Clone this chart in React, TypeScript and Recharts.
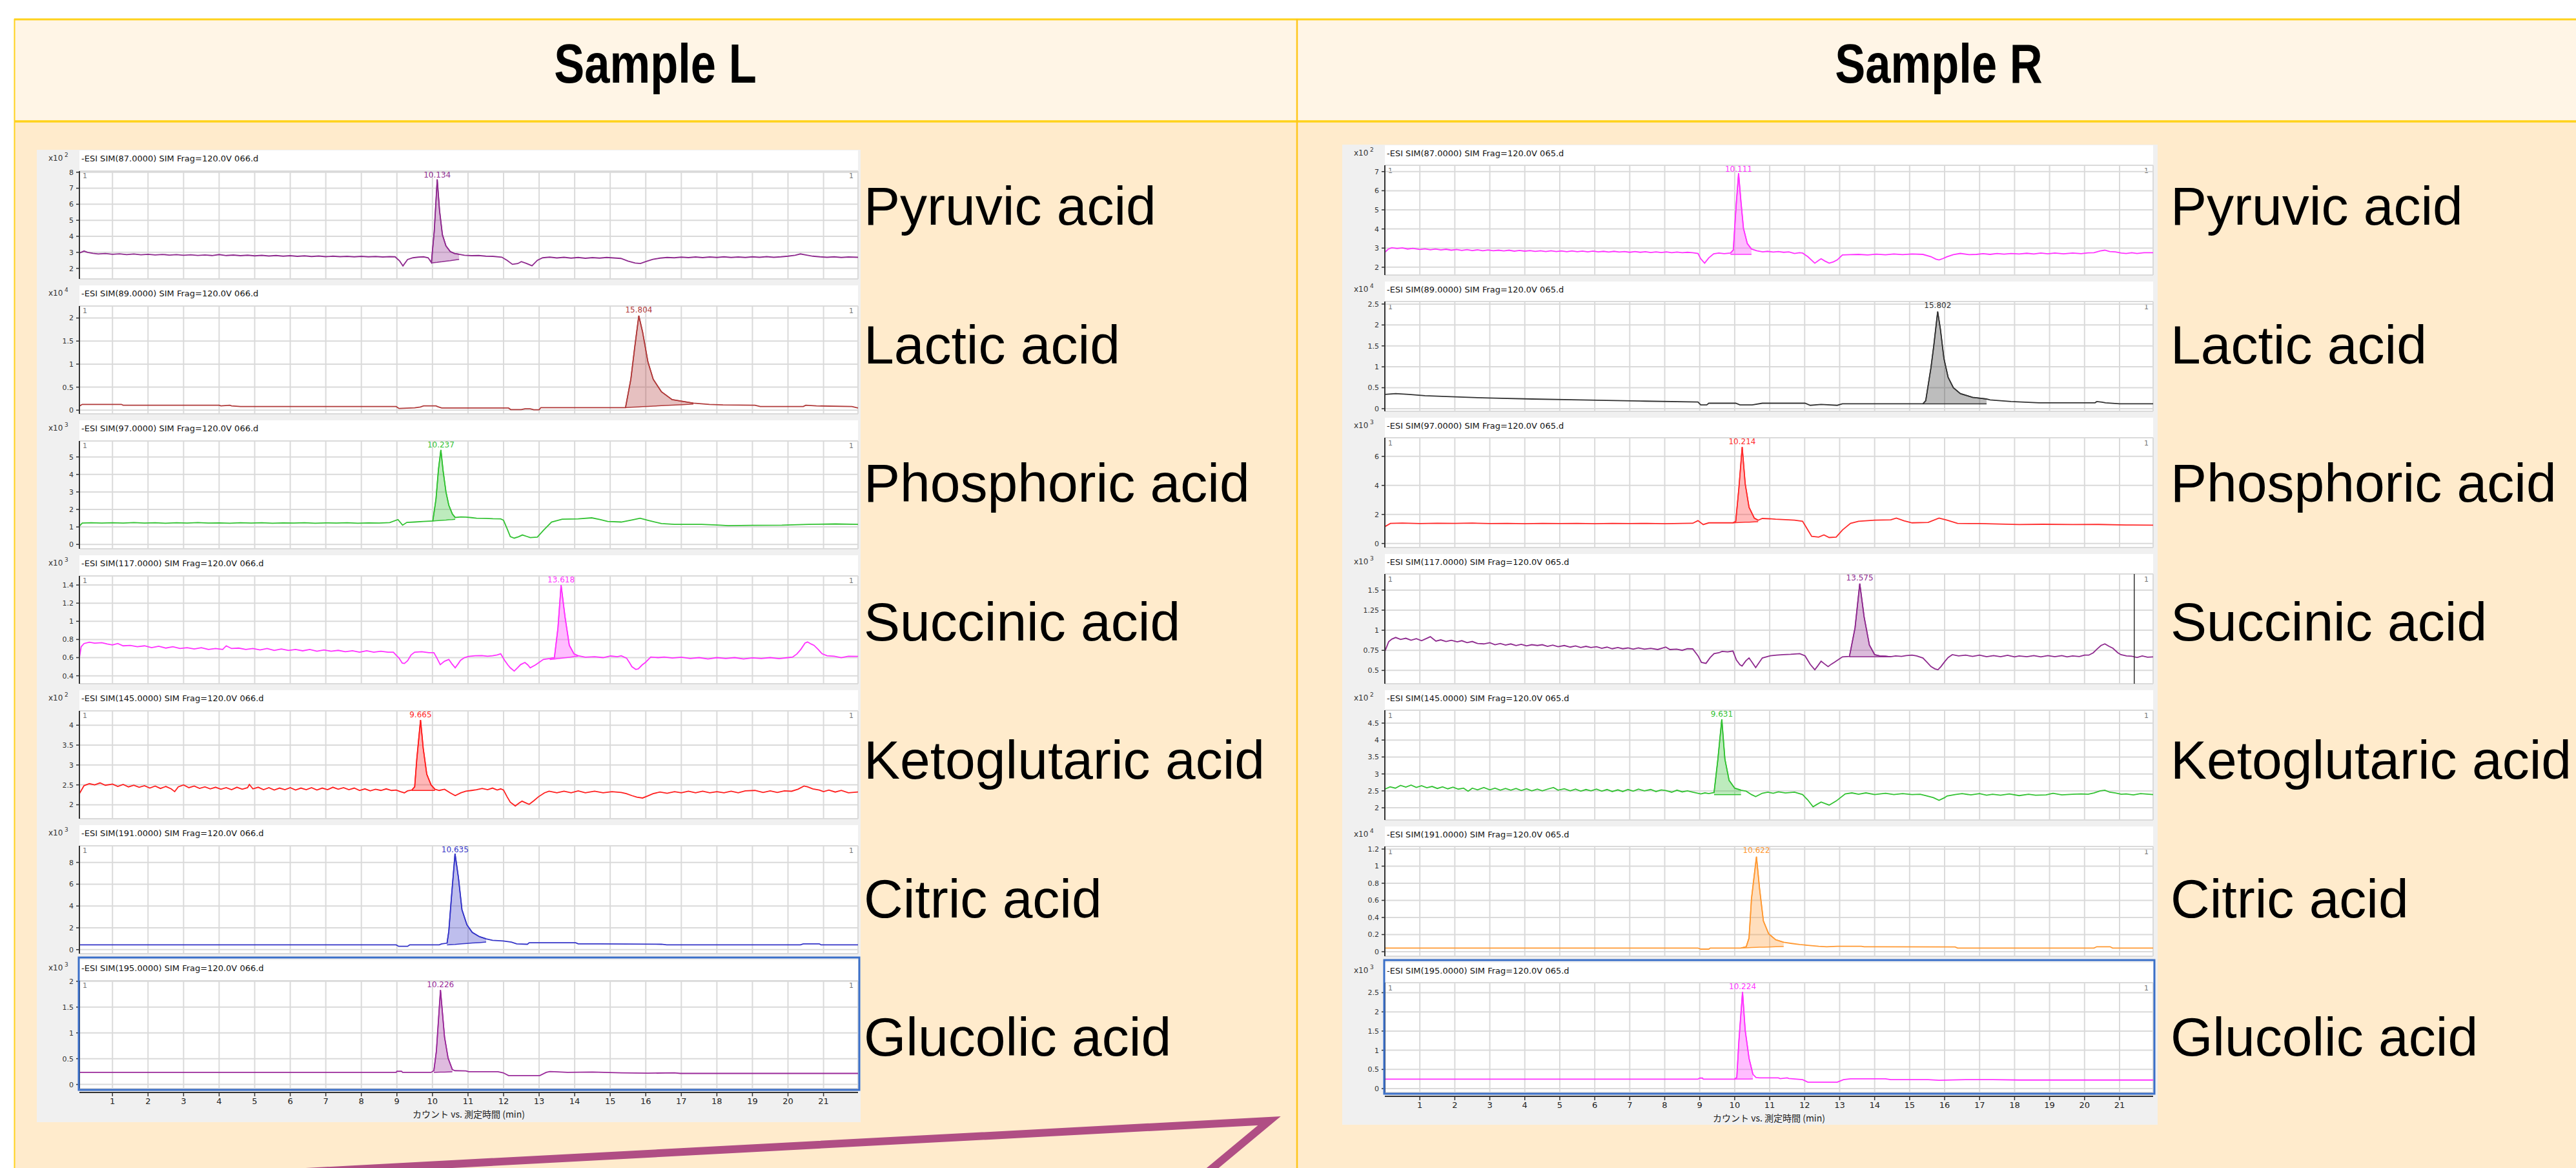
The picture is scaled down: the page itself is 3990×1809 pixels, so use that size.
import { ComposedChart, Line, Area, XAxis, YAxis, CartesianGrid, ReferenceLine } from "recharts";

type Pair = [number, number];

const MINUTES = [1, 2, 3, 4, 5, 6, 7, 8, 9, 10, 11, 12, 13, 14, 15, 16, 17, 18, 19, 20, 21];
const COMPOUNDS = ["Pyruvic acid", "Lactic acid", "Phosphoric acid", "Succinic acid", "Ketoglutaric acid", "Citric acid", "Glucolic acid"];
const IONS = ["87.0000", "89.0000", "97.0000", "117.0000", "145.0000", "191.0000", "195.0000"];

// ---- Sample L traces: [minute, counts] ----
const PYRUVIC_L: Pair[] = [[0.07,2.95],[0.2,3.08],[0.3,3.0],[0.45,2.94],[0.6,2.9],[0.8,2.93],[1.0,2.88],[1.2,2.91],[1.4,2.86],[1.6,2.9],[1.8,2.85],[2.0,2.88],[2.2,2.84],[2.4,2.87],[2.6,2.83],[2.8,2.86],[3.0,2.82],[3.2,2.85],[3.4,2.81],[3.6,2.84],[3.8,2.8],[4.0,2.86],[4.2,2.8],[4.4,2.83],[4.6,2.79],[4.8,2.82],[5.0,2.78],[5.2,2.81],[5.4,2.77],[5.6,2.8],[5.8,2.76],[6.0,2.79],[6.2,2.75],[6.4,2.78],[6.6,2.74],[6.8,2.77],[7.0,2.73],[7.2,2.76],[7.4,2.73],[7.6,2.75],[7.8,2.72],[8.0,2.75],[8.2,2.72],[8.4,2.74],[8.6,2.71],[8.8,2.73],[8.95,2.72],[9.08,2.45],[9.17,2.15],[9.3,2.55],[9.45,2.66],[9.6,2.7],[9.75,2.72],[9.88,2.66],[9.97,2.36],[10.05,4.3],[10.134,7.55],[10.2,5.6],[10.28,4.1],[10.38,3.4],[10.5,3.05],[10.62,2.93],[10.75,2.88],[10.9,2.82],[11.1,2.79],[11.3,2.8],[11.5,2.76],[11.7,2.75],[11.95,2.7],[12.1,2.5],[12.25,2.25],[12.4,2.3],[12.5,2.42],[12.65,2.3],[12.8,2.16],[12.95,2.5],[13.1,2.66],[13.3,2.7],[13.5,2.65],[13.7,2.69],[13.9,2.64],[14.1,2.68],[14.3,2.63],[14.5,2.67],[14.7,2.64],[14.9,2.68],[15.1,2.65],[15.3,2.62],[15.5,2.45],[15.7,2.33],[15.85,2.3],[16.0,2.42],[16.2,2.56],[16.4,2.64],[16.6,2.68],[16.8,2.66],[17.0,2.7],[17.2,2.67],[17.4,2.71],[17.6,2.67],[17.8,2.71],[18.0,2.68],[18.2,2.72],[18.4,2.68],[18.6,2.71],[18.8,2.68],[19.0,2.72],[19.2,2.69],[19.4,2.73],[19.6,2.69],[19.8,2.72],[20.0,2.76],[20.2,2.82],[20.35,2.9],[20.5,2.84],[20.7,2.76],[20.9,2.72],[21.1,2.69],[21.3,2.72],[21.5,2.68],[21.7,2.71],[21.97,2.69]];
const PYRUVIC_L_BASE: Pair[] = [[9.97,2.34],[10.05,2.36],[10.134,2.38],[10.2,2.4],[10.28,2.42],[10.38,2.45],[10.5,2.48],[10.62,2.52],[10.75,2.56]];

const LACTIC_L: Pair[] = [[0.07,0.09],[0.15,0.126],[1.25,0.126],[1.3,0.107],[4.0,0.107],[4.05,0.093],[4.3,0.107],[4.35,0.093],[4.6,0.079],[8.98,0.079],[9.06,0.037],[9.5,0.05],[9.66,0.07],[9.75,0.093],[10.1,0.093],[10.15,0.075],[10.26,0.047],[12.14,0.047],[12.2,0.014],[12.5,0.014],[12.6,0.03],[12.75,0.03],[12.85,0.009],[13.0,0.009],[13.05,0.056],[15.43,0.056],[15.58,0.67],[15.69,1.37],[15.804,2.05],[15.91,1.7],[16.06,1.05],[16.21,0.67],[16.44,0.4],[16.74,0.23],[17.04,0.19],[17.34,0.153],[17.79,0.126],[18.17,0.115],[19.07,0.107],[19.22,0.079],[20.43,0.079],[20.5,0.107],[20.8,0.093],[21.8,0.079],[21.97,0.047]];
const LACTIC_L_BASE: Pair[] = [[15.43,0.056],[15.58,0.062],[15.69,0.067],[15.804,0.071],[15.91,0.076],[16.06,0.082],[16.21,0.088],[16.44,0.097],[16.74,0.109],[17.04,0.121],[17.34,0.133]];

const PHOSPHORIC_L: Pair[] = [[0.07,1.05],[0.15,1.22],[0.4,1.24],[0.7,1.22],[1.0,1.24],[1.3,1.22],[1.6,1.25],[1.9,1.22],[2.2,1.24],[2.5,1.21],[2.8,1.24],[3.1,1.22],[3.4,1.25],[3.7,1.22],[4.0,1.23],[4.3,1.21],[4.6,1.24],[4.9,1.22],[5.2,1.24],[5.5,1.21],[5.8,1.23],[6.1,1.22],[6.4,1.24],[6.7,1.21],[7.0,1.23],[7.3,1.22],[7.6,1.24],[7.9,1.21],[8.2,1.23],[8.5,1.22],[8.8,1.25],[9.03,1.42],[9.16,1.1],[9.28,1.26],[9.5,1.28],[9.75,1.31],[10.01,1.34],[10.1,2.6],[10.17,4.3],[10.237,5.4],[10.3,4.2],[10.38,3.0],[10.46,2.24],[10.56,1.74],[10.64,1.54],[10.8,1.57],[10.94,1.56],[11.1,1.53],[11.24,1.5],[11.5,1.49],[11.7,1.47],[11.92,1.46],[12.0,1.38],[12.1,0.9],[12.19,0.45],[12.3,0.36],[12.42,0.44],[12.53,0.54],[12.65,0.46],[12.75,0.39],[12.95,0.42],[13.13,0.82],[13.35,1.28],[13.65,1.44],[14.1,1.46],[14.48,1.52],[14.71,1.42],[14.93,1.31],[15.31,1.28],[15.61,1.4],[15.84,1.5],[16.06,1.38],[16.44,1.19],[16.81,1.15],[17.57,1.15],[18.09,1.1],[18.32,1.07],[19.0,1.09],[19.83,1.1],[20.58,1.15],[21.33,1.17],[21.97,1.15]];
const PHOSPHORIC_L_BASE: Pair[] = [[10.01,1.34],[10.1,1.35],[10.17,1.36],[10.237,1.37],[10.3,1.38],[10.38,1.39],[10.46,1.41],[10.56,1.42],[10.64,1.44]];

const SUCCINIC_L: Pair[] = [[0.07,0.6],[0.12,0.72],[0.2,0.755],[0.35,0.77],[0.5,0.76],[0.7,0.765],[0.85,0.75],[1.0,0.74],[1.15,0.755],[1.3,0.73],[1.5,0.735],[1.7,0.72],[1.9,0.73],[2.1,0.71],[2.3,0.725],[2.5,0.705],[2.7,0.72],[2.9,0.7],[3.1,0.71],[3.3,0.695],[3.5,0.71],[3.7,0.69],[3.9,0.7],[4.1,0.69],[4.2,0.73],[4.35,0.7],[4.55,0.705],[4.75,0.69],[4.95,0.7],[5.15,0.685],[5.35,0.7],[5.55,0.68],[5.75,0.695],[5.95,0.68],[6.15,0.69],[6.35,0.675],[6.55,0.69],[6.75,0.67],[6.95,0.685],[7.15,0.67],[7.35,0.68],[7.55,0.665],[7.75,0.675],[7.95,0.66],[8.15,0.675],[8.35,0.66],[8.55,0.67],[8.75,0.66],[8.9,0.66],[9.06,0.594],[9.15,0.54],[9.21,0.535],[9.3,0.565],[9.4,0.63],[9.5,0.66],[9.7,0.665],[9.9,0.655],[10.04,0.654],[10.11,0.606],[10.22,0.523],[10.34,0.56],[10.46,0.58],[10.55,0.53],[10.64,0.488],[10.72,0.53],[10.79,0.57],[10.9,0.6],[11.02,0.613],[11.2,0.62],[11.39,0.623],[11.55,0.615],[11.69,0.62],[11.82,0.63],[11.92,0.642],[12.03,0.57],[12.12,0.52],[12.19,0.488],[12.3,0.452],[12.4,0.49],[12.48,0.523],[12.6,0.547],[12.68,0.52],[12.75,0.488],[12.9,0.52],[13.12,0.58],[13.3,0.59],[13.43,0.6],[13.53,0.926],[13.618,1.4],[13.73,1.045],[13.85,0.736],[13.98,0.642],[14.1,0.62],[14.3,0.605],[14.56,0.61],[14.8,0.6],[15.01,0.618],[15.2,0.61],[15.31,0.62],[15.46,0.594],[15.55,0.54],[15.61,0.5],[15.72,0.47],[15.79,0.476],[15.9,0.52],[15.99,0.547],[16.14,0.606],[16.35,0.6],[16.52,0.606],[16.75,0.595],[17.0,0.605],[17.25,0.59],[17.5,0.6],[17.75,0.585],[18.0,0.6],[18.25,0.59],[18.5,0.6],[18.75,0.585],[19.0,0.598],[19.25,0.59],[19.5,0.6],[19.75,0.588],[20.0,0.6],[20.13,0.606],[20.25,0.64],[20.36,0.69],[20.48,0.76],[20.55,0.772],[20.65,0.75],[20.73,0.736],[20.85,0.69],[20.96,0.642],[21.1,0.62],[21.3,0.615],[21.5,0.6],[21.7,0.615],[21.97,0.613]];
const SUCCINIC_L_BASE: Pair[] = [[13.3,0.578],[13.43,0.584],[13.53,0.589],[13.618,0.593],[13.73,0.598],[13.85,0.604],[13.98,0.61],[14.1,0.616]];

const KETO_L: Pair[] = [[0.07,2.28],[0.2,2.48],[0.35,2.53],[0.5,2.5],[0.65,2.55],[0.8,2.49],[1.0,2.52],[1.15,2.46],[1.3,2.51],[1.45,2.45],[1.6,2.49],[1.75,2.44],[1.9,2.48],[2.05,2.42],[2.2,2.47],[2.35,2.41],[2.5,2.46],[2.65,2.4],[2.75,2.33],[2.85,2.45],[3.0,2.5],[3.15,2.43],[3.3,2.47],[3.45,2.41],[3.6,2.45],[3.75,2.4],[3.9,2.44],[4.05,2.39],[4.2,2.43],[4.35,2.38],[4.5,2.44],[4.65,2.39],[4.8,2.43],[4.85,2.51],[4.95,2.4],[5.1,2.44],[5.25,2.38],[5.4,2.43],[5.55,2.37],[5.7,2.42],[5.85,2.38],[6.0,2.43],[6.15,2.37],[6.3,2.42],[6.45,2.38],[6.6,2.43],[6.75,2.37],[6.9,2.42],[7.05,2.38],[7.2,2.44],[7.35,2.39],[7.5,2.43],[7.65,2.38],[7.8,2.42],[7.95,2.36],[8.1,2.4],[8.25,2.35],[8.4,2.39],[8.55,2.36],[8.7,2.4],[8.85,2.36],[8.98,2.37],[9.1,2.33],[9.21,2.3],[9.3,2.35],[9.42,2.37],[9.5,2.45],[9.56,3.15],[9.665,4.13],[9.74,3.42],[9.84,2.77],[9.96,2.5],[10.07,2.39],[10.19,2.36],[10.34,2.39],[10.5,2.3],[10.64,2.23],[10.8,2.3],[10.94,2.34],[11.1,2.36],[11.24,2.38],[11.4,2.41],[11.55,2.38],[11.69,2.42],[11.82,2.37],[11.92,2.4],[12.0,2.37],[12.1,2.2],[12.19,2.065],[12.33,1.97],[12.45,2.05],[12.52,2.09],[12.62,2.05],[12.72,2.01],[12.85,2.1],[12.98,2.2],[13.15,2.3],[13.28,2.34],[13.5,2.3],[13.7,2.34],[13.9,2.3],[14.1,2.35],[14.3,2.3],[14.56,2.34],[14.8,2.3],[15.05,2.33],[15.31,2.31],[15.45,2.28],[15.61,2.23],[15.75,2.19],[15.91,2.17],[16.05,2.22],[16.21,2.28],[16.4,2.32],[16.6,2.29],[16.81,2.33],[17.0,2.3],[17.2,2.34],[17.4,2.3],[17.6,2.34],[17.8,2.3],[18.0,2.33],[18.2,2.3],[18.4,2.34],[18.6,2.3],[18.8,2.35],[19.07,2.36],[19.3,2.31],[19.5,2.35],[19.7,2.31],[19.9,2.35],[20.1,2.34],[20.28,2.39],[20.45,2.47],[20.55,2.45],[20.7,2.4],[20.88,2.37],[21.0,2.33],[21.15,2.37],[21.33,2.32],[21.5,2.36],[21.7,2.3],[21.97,2.32]];
const KETO_L_BASE: Pair[] = [[9.42,2.36],[9.5,2.36],[9.56,2.36],[9.665,2.36],[9.74,2.36],[9.84,2.36],[9.96,2.36],[10.07,2.36]];

const CITRIC_L: Pair[] = [[0.07,0.435],[8.98,0.435],[9.05,0.3],[9.3,0.3],[9.36,0.435],[10.19,0.435],[10.26,0.53],[10.41,0.59],[10.46,1.68],[10.53,4.64],[10.635,8.8],[10.73,6.62],[10.83,3.66],[10.97,2.27],[11.12,1.58],[11.32,1.19],[11.51,0.99],[11.69,0.85],[11.99,0.79],[12.22,0.69],[12.37,0.53],[12.67,0.49],[12.72,0.63],[14.03,0.63],[14.1,0.53],[14.71,0.53],[16.44,0.49],[16.59,0.435],[17.04,0.435],[20.35,0.435],[20.43,0.53],[20.88,0.53],[20.93,0.435],[21.97,0.435]];
const CITRIC_L_BASE: Pair[] = [[10.41,0.43],[10.46,0.44],[10.53,0.46],[10.635,0.48],[10.73,0.51],[10.83,0.53],[10.97,0.56],[11.12,0.6],[11.32,0.64],[11.51,0.69]];

const GLUCOLIC_L: Pair[] = [[0.07,0.234],[8.98,0.234],[9.0,0.255],[9.13,0.255],[9.16,0.234],[9.96,0.234],[10.04,0.267],[10.11,0.64],[10.226,1.83],[10.34,0.92],[10.44,0.51],[10.56,0.287],[10.63,0.267],[10.94,0.263],[11.02,0.246],[11.84,0.246],[11.99,0.226],[12.14,0.172],[13.02,0.172],[13.2,0.234],[13.3,0.25],[13.43,0.246],[13.8,0.234],[14.5,0.24],[15.31,0.226],[16.06,0.218],[16.81,0.226],[16.97,0.214],[21.97,0.214]];
const GLUCOLIC_L_BASE: Pair[] = [[10.04,0.234],[10.11,0.236],[10.226,0.238],[10.34,0.24],[10.44,0.242],[10.56,0.245]];

// ---- Sample R traces ----
const PYRUVIC_R: Pair[] = [[0.0,2.78],[0.1,2.95],[0.2,3.02],[0.35,2.98],[0.5,3.01],[0.65,2.95],[0.8,2.99],[1.0,2.93],[1.15,2.96],[1.3,2.91],[1.45,2.95],[1.6,2.9],[1.75,2.94],[1.9,2.89],[2.05,2.93],[2.2,2.88],[2.35,2.92],[2.5,2.87],[2.65,2.91],[2.8,2.86],[2.95,2.9],[3.1,2.86],[3.25,2.89],[3.4,2.85],[3.55,2.89],[3.7,2.84],[3.85,2.88],[4.0,2.84],[4.15,2.87],[4.3,2.83],[4.45,2.86],[4.6,2.82],[4.75,2.86],[4.9,2.82],[5.05,2.85],[5.2,2.81],[5.35,2.85],[5.5,2.81],[5.65,2.84],[5.8,2.8],[5.95,2.84],[6.1,2.8],[6.25,2.83],[6.4,2.79],[6.55,2.83],[6.7,2.79],[6.85,2.82],[7.0,2.78],[7.15,2.82],[7.3,2.78],[7.45,2.81],[7.6,2.77],[7.75,2.8],[7.9,2.77],[8.05,2.8],[8.2,2.76],[8.35,2.79],[8.5,2.76],[8.65,2.78],[8.8,2.76],[8.95,2.72],[9.03,2.44],[9.14,2.21],[9.26,2.49],[9.4,2.7],[9.55,2.74],[9.7,2.71],[9.88,2.74],[9.96,2.9],[10.04,5.19],[10.111,6.91],[10.18,5.4],[10.25,4.04],[10.36,3.24],[10.48,2.95],[10.63,2.86],[10.8,2.8],[10.94,2.83],[11.1,2.79],[11.25,2.82],[11.4,2.78],[11.55,2.8],[11.71,2.72],[11.85,2.76],[11.94,2.74],[12.09,2.55],[12.29,2.21],[12.4,2.36],[12.47,2.44],[12.58,2.32],[12.7,2.21],[12.82,2.28],[12.93,2.38],[13.08,2.64],[13.3,2.66],[13.54,2.67],[13.8,2.64],[14.05,2.68],[14.31,2.65],[14.55,2.69],[14.8,2.66],[15.07,2.69],[15.38,2.67],[15.61,2.55],[15.75,2.42],[15.84,2.38],[15.95,2.45],[16.07,2.55],[16.25,2.66],[16.45,2.72],[16.7,2.66],[16.91,2.67],[17.1,2.71],[17.3,2.67],[17.5,2.72],[17.7,2.68],[17.9,2.72],[18.13,2.69],[18.35,2.73],[18.55,2.69],[18.75,2.74],[18.95,2.7],[19.15,2.74],[19.4,2.7],[19.66,2.74],[19.9,2.71],[20.1,2.75],[20.27,2.76],[20.45,2.85],[20.58,2.89],[20.72,2.82],[20.88,2.8],[21.05,2.74],[21.19,2.72],[21.35,2.76],[21.5,2.72],[21.7,2.76],[21.96,2.76]];
const PYRUVIC_R_BASE: Pair[] = [[9.88,2.67],[9.96,2.67],[10.04,2.67],[10.111,2.67],[10.18,2.67],[10.25,2.67],[10.36,2.67],[10.48,2.67]];

const LACTIC_R: Pair[] = [[0.0,0.34],[0.31,0.36],[0.69,0.34],[1.15,0.31],[1.76,0.29],[2.38,0.27],[3.14,0.25],[4.21,0.23],[5.59,0.21],[7.42,0.18],[8.95,0.16],[9.03,0.09],[9.2,0.09],[9.26,0.13],[10.03,0.13],[10.15,0.09],[10.5,0.09],[10.79,0.13],[12.01,0.13],[12.16,0.08],[12.47,0.1],[12.93,0.08],[13.08,0.115],[15.38,0.115],[15.46,0.19],[15.61,0.98],[15.69,1.5],[15.802,2.32],[15.88,1.9],[15.98,1.2],[16.1,0.75],[16.25,0.5],[16.45,0.36],[16.8,0.27],[17.0,0.25],[17.2,0.23],[17.3,0.21],[17.9,0.17],[18.7,0.14],[20.3,0.14],[20.35,0.17],[20.5,0.155],[20.6,0.14],[21.0,0.115],[21.96,0.115]];
const LACTIC_R_BASE: Pair[] = [[15.38,0.115],[15.46,0.115],[15.61,0.115],[15.69,0.115],[15.802,0.115],[15.88,0.115],[15.98,0.115],[16.1,0.115],[16.25,0.115],[16.45,0.115],[16.8,0.115],[17.0,0.115],[17.2,0.115]];

const PHOSPHORIC_R: Pair[] = [[0.0,1.16],[0.16,1.38],[0.5,1.4],[1.0,1.37],[1.5,1.39],[2.0,1.38],[2.5,1.4],[3.0,1.37],[3.5,1.38],[4.0,1.36],[4.5,1.38],[5.0,1.37],[5.5,1.38],[6.0,1.36],[6.5,1.38],[7.0,1.37],[7.5,1.38],[8.0,1.36],[8.5,1.38],[8.8,1.39],[8.95,1.57],[9.1,1.3],[9.26,1.42],[9.6,1.43],[9.95,1.42],[10.03,1.52],[10.12,3.82],[10.214,6.64],[10.3,4.12],[10.41,2.49],[10.56,1.75],[10.67,1.6],[10.79,1.72],[11.0,1.7],[11.17,1.67],[11.45,1.64],[11.71,1.6],[11.94,1.53],[12.09,0.93],[12.2,0.49],[12.4,0.44],[12.55,0.59],[12.7,0.41],[12.9,0.44],[13.08,0.93],[13.31,1.38],[13.54,1.53],[14.0,1.6],[14.46,1.63],[14.62,1.75],[14.84,1.56],[15.07,1.42],[15.53,1.45],[15.84,1.75],[16.07,1.6],[16.37,1.38],[17.0,1.37],[17.37,1.35],[18.13,1.3],[18.8,1.32],[19.66,1.3],[20.4,1.31],[21.19,1.27],[21.96,1.26]];
const PHOSPHORIC_R_BASE: Pair[] = [[9.95,1.42],[10.03,1.43],[10.12,1.44],[10.214,1.45],[10.3,1.46],[10.41,1.47],[10.56,1.49],[10.67,1.5]];

const SUCCINIC_R: Pair[] = [[0.0,0.736],[0.11,0.857],[0.2,0.89],[0.31,0.91],[0.45,0.885],[0.6,0.9],[0.75,0.875],[0.9,0.895],[1.05,0.87],[1.2,0.9],[1.3,0.92],[1.46,0.865],[1.6,0.88],[1.75,0.86],[1.9,0.875],[2.07,0.855],[2.2,0.87],[2.35,0.845],[2.5,0.86],[2.65,0.835],[2.83,0.83],[3.0,0.845],[3.15,0.82],[3.3,0.835],[3.45,0.815],[3.6,0.83],[3.75,0.81],[3.9,0.825],[4.05,0.805],[4.2,0.82],[4.36,0.81],[4.5,0.82],[4.65,0.8],[4.8,0.815],[4.95,0.795],[5.13,0.81],[5.3,0.79],[5.45,0.805],[5.6,0.785],[5.75,0.8],[5.89,0.785],[6.05,0.795],[6.2,0.775],[6.35,0.79],[6.5,0.77],[6.66,0.785],[6.8,0.77],[6.95,0.78],[7.1,0.765],[7.25,0.78],[7.42,0.765],[7.6,0.775],[7.8,0.76],[8.03,0.79],[8.15,0.76],[8.34,0.765],[8.5,0.75],[8.65,0.77],[8.8,0.768],[8.95,0.682],[9.05,0.6],[9.18,0.588],[9.3,0.66],[9.41,0.709],[9.55,0.72],[9.64,0.736],[9.8,0.73],[9.95,0.741],[10.05,0.629],[10.15,0.57],[10.21,0.554],[10.32,0.62],[10.41,0.655],[10.5,0.6],[10.6,0.535],[10.7,0.6],[10.79,0.655],[11.02,0.682],[11.2,0.69],[11.4,0.696],[11.6,0.7],[11.86,0.709],[12.01,0.682],[12.16,0.575],[12.29,0.508],[12.38,0.56],[12.47,0.615],[12.57,0.58],[12.67,0.548],[12.77,0.58],[12.85,0.602],[13.08,0.669],[13.28,0.675],[13.44,1.03],[13.575,1.58],[13.7,1.165],[13.85,0.816],[14.0,0.696],[14.15,0.68],[14.31,0.677],[14.46,0.67],[14.6,0.68],[14.77,0.675],[14.9,0.685],[15.07,0.69],[15.2,0.68],[15.38,0.655],[15.5,0.6],[15.61,0.548],[15.72,0.52],[15.81,0.508],[15.9,0.55],[15.99,0.602],[16.1,0.66],[16.22,0.696],[16.4,0.68],[16.6,0.69],[16.8,0.675],[17.0,0.69],[17.2,0.67],[17.4,0.685],[17.6,0.67],[17.8,0.688],[18.0,0.668],[18.13,0.68],[18.35,0.67],[18.55,0.685],[18.75,0.668],[18.95,0.685],[19.15,0.67],[19.35,0.685],[19.5,0.668],[19.66,0.68],[19.85,0.672],[20.0,0.69],[20.12,0.69],[20.25,0.72],[20.35,0.763],[20.47,0.81],[20.58,0.83],[20.7,0.8],[20.81,0.776],[20.95,0.72],[21.04,0.696],[21.2,0.68],[21.35,0.677],[21.5,0.66],[21.65,0.68],[21.8,0.665],[21.96,0.669]];
const SUCCINIC_R_BASE: Pair[] = [[13.28,0.669],[13.44,0.669],[13.575,0.669],[13.7,0.669],[13.85,0.669],[14.0,0.669],[14.15,0.669],[14.31,0.669],[14.46,0.669]];

const KETO_R: Pair[] = [[0.0,2.55],[0.15,2.62],[0.3,2.58],[0.45,2.66],[0.6,2.61],[0.75,2.67],[0.9,2.6],[1.05,2.65],[1.2,2.59],[1.35,2.63],[1.5,2.57],[1.65,2.62],[1.8,2.56],[1.95,2.61],[2.1,2.55],[2.25,2.58],[2.38,2.49],[2.5,2.58],[2.65,2.53],[2.83,2.6],[3.0,2.53],[3.15,2.58],[3.3,2.52],[3.45,2.57],[3.6,2.52],[3.75,2.57],[3.9,2.51],[4.05,2.56],[4.2,2.5],[4.36,2.55],[4.5,2.5],[4.65,2.55],[4.82,2.6],[4.95,2.52],[5.13,2.56],[5.3,2.5],[5.45,2.55],[5.6,2.49],[5.75,2.54],[5.89,2.5],[6.05,2.55],[6.2,2.49],[6.35,2.54],[6.5,2.48],[6.66,2.53],[6.8,2.48],[6.95,2.54],[7.1,2.49],[7.25,2.55],[7.42,2.5],[7.6,2.54],[7.75,2.48],[7.9,2.53],[8.03,2.51],[8.2,2.46],[8.35,2.52],[8.5,2.47],[8.65,2.5],[8.8,2.46],[9.03,2.41],[9.15,2.44],[9.26,2.42],[9.41,2.45],[9.52,3.44],[9.631,4.61],[9.72,3.44],[9.84,2.81],[10.0,2.58],[10.18,2.52],[10.33,2.49],[10.48,2.39],[10.6,2.33],[10.79,2.43],[10.95,2.46],[11.1,2.43],[11.25,2.47],[11.45,2.44],[11.71,2.46],[11.94,2.39],[12.09,2.23],[12.24,2.03],[12.35,2.1],[12.47,2.17],[12.6,2.12],[12.7,2.08],[12.9,2.2],[13.16,2.41],[13.35,2.44],[13.54,2.4],[13.75,2.44],[14.0,2.39],[14.31,2.43],[14.55,2.39],[14.8,2.42],[15.07,2.39],[15.3,2.4],[15.45,2.36],[15.68,2.3],[15.84,2.22],[16.0,2.3],[16.07,2.35],[16.3,2.39],[16.5,2.42],[16.75,2.38],[17.0,2.42],[17.2,2.37],[17.37,2.4],[17.6,2.37],[17.85,2.41],[18.13,2.36],[18.4,2.4],[18.6,2.37],[18.9,2.38],[19.1,2.43],[19.35,2.38],[19.66,2.4],[19.9,2.41],[20.1,2.4],[20.27,2.44],[20.45,2.5],[20.58,2.52],[20.72,2.46],[20.88,2.44],[21.05,2.4],[21.19,2.41],[21.4,2.38],[21.6,2.42],[21.96,2.39]];
const KETO_R_BASE: Pair[] = [[9.41,2.39],[9.52,2.39],[9.631,2.39],[9.72,2.39],[9.84,2.39],[10.0,2.39],[10.18,2.39]];

const CITRIC_R: Pair[] = [[0.0,0.043],[8.95,0.043],[9.03,0.03],[9.26,0.03],[9.3,0.043],[10.18,0.043],[10.33,0.058],[10.41,0.16],[10.48,0.62],[10.622,1.11],[10.71,0.74],[10.82,0.36],[10.97,0.21],[11.17,0.14],[11.4,0.11],[11.63,0.096],[11.86,0.083],[12.09,0.075],[12.4,0.063],[12.63,0.058],[12.93,0.063],[13.62,0.063],[13.7,0.058],[14.0,0.058],[16.3,0.055],[16.37,0.043],[20.27,0.043],[20.35,0.058],[20.73,0.058],[20.8,0.043],[21.96,0.043]];
const CITRIC_R_BASE: Pair[] = [[10.18,0.043],[10.33,0.046],[10.41,0.047],[10.48,0.048],[10.622,0.05],[10.71,0.052],[10.82,0.053],[10.97,0.055],[11.17,0.058],[11.4,0.06]];

const GLUCOLIC_R: Pair[] = [[0.0,0.246],[8.95,0.246],[9.0,0.274],[9.08,0.274],[9.1,0.246],[9.99,0.246],[10.06,0.29],[10.12,1.24],[10.224,2.52],[10.3,1.52],[10.41,0.79],[10.52,0.375],[10.61,0.29],[10.71,0.28],[11.25,0.28],[11.3,0.26],[11.5,0.28],[11.55,0.263],[11.94,0.235],[12.09,0.168],[12.93,0.168],[13.11,0.235],[13.31,0.257],[14.31,0.257],[14.46,0.235],[15.53,0.235],[15.84,0.218],[16.6,0.235],[17.37,0.235],[18.13,0.224],[21.96,0.224]];
const GLUCOLIC_R_BASE: Pair[] = [[9.99,0.246],[10.06,0.247],[10.12,0.248],[10.224,0.249],[10.3,0.25],[10.41,0.251],[10.52,0.253]];

interface Trace {
  exp: number;
  color: string;
  data: Pair[];
  base: Pair[];
  apex: number;
  apexLabel: string;
  domain: [number, number];
  ticks: number[];
  marker?: number;
}

const LEFT_TRACES: Trace[] = [
  { exp: 2, color: "#8e2a8e", data: PYRUVIC_L, base: PYRUVIC_L_BASE, apex: 10.134, apexLabel: "10.134", domain: [1.34, 8.07], ticks: [2, 3, 4, 5, 6, 7, 8] },
  { exp: 4, color: "#b03a3a", data: LACTIC_L, base: LACTIC_L_BASE, apex: 15.804, apexLabel: "15.804", domain: [-0.08, 2.26], ticks: [0, 0.5, 1, 1.5, 2] },
  { exp: 3, color: "#33c233", data: PHOSPHORIC_L, base: PHOSPHORIC_L_BASE, apex: 10.237, apexLabel: "10.237", domain: [-0.25, 5.91], ticks: [0, 1, 2, 3, 4, 5] },
  { exp: 3, color: "#ff33ff", data: SUCCINIC_L, base: SUCCINIC_L_BASE, apex: 13.618, apexLabel: "13.618", domain: [0.312, 1.5], ticks: [0.4, 0.6, 0.8, 1, 1.2, 1.4] },
  { exp: 2, color: "#ff1f1f", data: KETO_L, base: KETO_L_BASE, apex: 9.665, apexLabel: "9.665", domain: [1.65, 4.36], ticks: [2, 2.5, 3, 3.5, 4] },
  { exp: 3, color: "#3535c8", data: CITRIC_L, base: CITRIC_L_BASE, apex: 10.635, apexLabel: "10.635", domain: [-0.37, 9.52], ticks: [0, 2, 4, 6, 8] },
  { exp: 3, color: "#9a2a9a", data: GLUCOLIC_L, base: GLUCOLIC_L_BASE, apex: 10.226, apexLabel: "10.226", domain: [-0.08, 2.01], ticks: [0, 0.5, 1, 1.5, 2] },
];

const RIGHT_TRACES: Trace[] = [
  { exp: 2, color: "#ff33ff", data: PYRUVIC_R, base: PYRUVIC_R_BASE, apex: 10.111, apexLabel: "10.111", domain: [1.59, 7.33], ticks: [2, 3, 4, 5, 6, 7] },
  { exp: 4, color: "#333333", data: LACTIC_R, base: LACTIC_R_BASE, apex: 15.802, apexLabel: "15.802", domain: [-0.063, 2.56], ticks: [0, 0.5, 1, 1.5, 2, 2.5] },
  { exp: 3, color: "#ff2b2b", data: PHOSPHORIC_R, base: PHOSPHORIC_R_BASE, apex: 10.214, apexLabel: "10.214", domain: [-0.28, 7.28], ticks: [0, 2, 4, 6] },
  { exp: 3, color: "#8e2a8e", data: SUCCINIC_R, base: SUCCINIC_R_BASE, apex: 13.575, apexLabel: "13.575", domain: [0.334, 1.7], ticks: [0.5, 0.75, 1, 1.25, 1.5], marker: 21.42 },
  { exp: 2, color: "#33c233", data: KETO_R, base: KETO_R_BASE, apex: 9.631, apexLabel: "9.631", domain: [1.64, 4.88], ticks: [2, 2.5, 3, 3.5, 4, 4.5] },
  { exp: 4, color: "#ff9933", data: CITRIC_R, base: CITRIC_R_BASE, apex: 10.622, apexLabel: "10.622", domain: [-0.053, 1.23], ticks: [0, 0.2, 0.4, 0.6, 0.8, 1, 1.2] },
  { exp: 3, color: "#ff33ff", data: GLUCOLIC_R, base: GLUCOLIC_R_BASE, apex: 10.224, apexLabel: "10.224", domain: [-0.1, 2.76], ticks: [0, 0.5, 1, 1.5, 2, 2.5] },
];

interface Column {
  x: number; // panel left
  axis: number; // y axis x
  right: number; // plot right edge
  panelRight: number;
  panelTop: number;
  panelBottom: number;
  top: number; // first strip top
  step: number;
  h: number;
  plotTop: number;
  xDomain: [number, number];
  file: string;
  traces: Trace[];
  label: string;
  center: number;
  names: number;
}

const COLS: Column[] = [
  { x: 57, axis: 123, right: 1329, panelRight: 1333, panelTop: 232, panelBottom: 1738, top: 233, step: 209, h: 199, plotTop: 32, xDomain: [0.07, 21.97], file: "066.d", traces: LEFT_TRACES, label: "Sample L", center: 1015, names: 1338 },
  { x: 2079, axis: 2145, right: 3335, panelRight: 3342, panelTop: 224, panelBottom: 1742, top: 225, step: 211, h: 201, plotTop: 31, xDomain: [0, 21.96], file: "065.d", traces: RIGHT_TRACES, label: "Sample R", center: 3003, names: 3362 },
];

const UI = "'DejaVu Sans', Verdana, sans-serif";
const AXIS_H = 52;

const MinuteTick = (props: any) => {
  const { x, y, payload } = props;
  return (
    <g>
      <line x1={x} x2={x} y1={y + 6} y2={y + 12} stroke="#333" strokeWidth={1.5} />
      <text x={x} y={y + 24} textAnchor="middle" fontSize={13} fill="#222" fontFamily={UI}>
        {payload.value}
      </text>
    </g>
  );
};

const NoTick = () => <g />;

function Strip({ col, tr, i }: { col: Column; tr: Trace; i: number }) {
  const last = i === col.traces.length - 1;
  const top = col.top + col.step * i;
  const w = col.right - col.x;
  const height = last ? col.h + AXIS_H : col.h;
  const baseOf = new Map(tr.base);
  const rows = tr.data.map(([t, v]) => ({
    t,
    v,
    band: baseOf.has(t) ? [baseOf.get(t), v] : null,
  }));

  return (
    <div style={{ position: "absolute", left: col.x, top, width: w, height }}>
      <ComposedChart width={w} height={height} data={rows} margin={{ top: col.plotTop, right: 0, bottom: 0, left: 0 }}>
        <CartesianGrid stroke="#dadada" strokeWidth={2} />
        <XAxis
          type="number"
          dataKey="t"
          domain={col.xDomain}
          ticks={MINUTES}
          allowDataOverflow
          interval={0}
          height={last ? AXIS_H : 0}
          axisLine={false}
          tickLine={false}
          tickSize={0}
          tickMargin={0}
          tick={last ? (p: any) => <MinuteTick {...p} /> : NoTick}
        />
        <YAxis
          type="number"
          domain={tr.domain}
          ticks={tr.ticks}
          allowDataOverflow
          interval={0}
          width={col.axis - col.x}
          axisLine={{ stroke: "#333", strokeWidth: 2 }}
          tickLine={{ stroke: "#333", strokeWidth: 1.5 }}
          tickSize={5}
          tickMargin={4}
          tick={{ fontSize: 11, fill: "#333", fontFamily: UI }}
        />
        <Area
          type="linear"
          dataKey="band"
          stroke={tr.color}
          strokeWidth={1.5}
          fill={tr.color}
          fillOpacity={0.32}
          dot={false}
          activeDot={false}
          isAnimationActive={false}
        />
        <Line type="linear" dataKey="v" stroke={tr.color} strokeWidth={1.8} dot={false} activeDot={false} isAnimationActive={false} />
        <ReferenceLine
          x={tr.apex}
          stroke="none"
          label={{ value: tr.apexLabel, position: "insideTop", offset: 1, fill: tr.color, fontSize: 12, fontFamily: UI }}
        />
        {tr.marker !== undefined && <ReferenceLine x={tr.marker} stroke="#333" strokeWidth={1.5} />}
      </ComposedChart>
    </div>
  );
}

function Background() {
  return (
    <svg width={3990} height={1809} style={{ position: "absolute", left: 0, top: 0 }}>
      <rect x={0} y={0} width={3990} height={1809} fill="#ffffff" />
      <rect x={22} y={29} width={3980} height={159} fill="#fff5e6" />
      <rect x={22} y={188} width={3980} height={1630} fill="#ffebcc" />
      <line x1={22} x2={3990} y1={30} y2={30} stroke="#ffd21c" strokeWidth={3} />
      <line x1={22} x2={3990} y1={188} y2={188} stroke="#ffd21c" strokeWidth={3.5} />
      <line x1={22.5} x2={22.5} y1={29} y2={1809} stroke="#ffd21c" strokeWidth={2} />
      <line x1={2009} x2={2009} y1={29} y2={1809} stroke="#ffc61a" strokeWidth={2.5} />
      {COLS.map((col) => (
        <g key={col.label}>
          <text
            x={0}
            y={128}
            transform={`translate(${col.center},0) scale(0.82,1)`}
            textAnchor="middle"
            fontSize={86}
            fontWeight="bold"
            fontFamily="'Liberation Sans', Arial, sans-serif"
            fill="#000"
          >
            {col.label}
          </text>
          <rect x={col.x} y={col.panelTop} width={col.panelRight - col.x} height={col.panelBottom - col.panelTop} fill="#f0f0f0" />
          {col.traces.map((tr, i) => {
            const top = col.top + col.step * i;
            return (
              <g key={i}>
                <rect x={col.axis} y={top} width={col.right - col.axis} height={col.h} fill="#ffffff" />
                <text x={col.x + 18} y={top + 16} fontSize={12} fill="#333" fontFamily={UI}>
                  x10
                </text>
                <text x={col.x + 43} y={top + 10} fontSize={9} fill="#333" fontFamily={UI}>
                  {tr.exp}
                </text>
                <text x={col.axis + 3} y={top + 16.5} fontSize={13} fill="#111" fontFamily={UI}>
                  {`-ESI SIM(${IONS[i]}) SIM Frag=120.0V ${col.file}`}
                </text>
                <text x={col.axis + 5} y={top + 43} fontSize={11} fill="#777" fontFamily={UI}>
                  1
                </text>
                <text x={col.right - 14} y={top + 43} fontSize={11} fill="#777" fontFamily={UI}>
                  1
                </text>
              </g>
            );
          })}
          <line
            x1={col.axis}
            x2={col.right}
            y1={col.top + col.step * 6 + col.h + 6}
            y2={col.top + col.step * 6 + col.h + 6}
            stroke="#333"
            strokeWidth={2}
          />
          <text
            x={(col.axis + col.right) / 2}
            y={col.top + col.step * 6 + col.h + 45}
            textAnchor="middle"
            fontSize={14}
            fill="#222"
            fontFamily="'Noto Sans CJK JP', sans-serif"
          >
            カウント vs. 測定時間 (min)
          </text>
          {COMPOUNDS.map((name, i) => (
            <text key={name} x={col.names} y={348 + 214.5 * i} fontSize={84} fill="#000" fontFamily="'Liberation Sans', Arial, sans-serif">
              {name}
            </text>
          ))}
        </g>
      ))}
    </svg>
  );
}

function Overlay() {
  return (
    <svg width={3990} height={1809} style={{ position: "absolute", left: 0, top: 0, pointerEvents: "none" }}>
      {COLS.map((col) => {
        const top = col.top + col.step * 6;
        return (
          <rect
            key={col.label}
            x={col.axis - 1}
            y={top - 4}
            width={col.right - col.axis + 3}
            height={col.h + 6}
            fill="none"
            stroke="#3a6fc8"
            strokeWidth={3}
          />
        );
      })}
      <polyline points="190,1830 1966,1736 1853,1830" fill="none" stroke="#b04e84" strokeWidth={12} strokeLinejoin="miter" />
    </svg>
  );
}

export default function App() {
  return (
    <div style={{ position: "absolute", left: 0, top: 0, width: 3990, height: 1809, overflow: "hidden", background: "#fff" }}>
      <style>{`.recharts-surface { overflow: visible; }`}</style>
      <Background />
      {COLS.map((col) => col.traces.map((tr, i) => <Strip key={`${col.label}-${i}`} col={col} tr={tr} i={i} />))}
      <Overlay />
    </div>
  );
}
